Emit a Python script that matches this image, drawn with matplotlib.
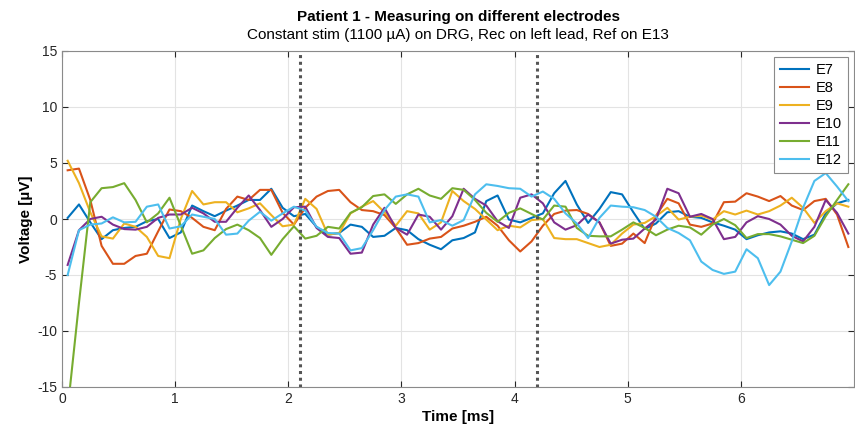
import matplotlib
matplotlib.use("Agg")
import matplotlib.pyplot as plt
import numpy as np

plt.rcParams['font.family'] = ['Liberation Sans', 'DejaVu Sans']
plt.rcParams['axes.unicode_minus'] = False

# samples every 0.1 ms, starting at 0.05 ms
time_ms = np.round(np.arange(0.05, 7.0, 0.1), 2)

e7 = [0.1, 1.3, -0.3, -1.8, -1.0, -0.8, -0.7, -0.2, 0.0, -1.7,
      -1.2, 1.2, 0.7, 0.25, 0.75, 1.2, 1.7, 1.7, 2.7, 1.0,
      0.25, 0.45, -0.7, -1.4, -1.25, -0.5, -0.7, -1.6, -1.5, -0.8,
      -1.0, -1.8, -2.3, -2.7, -1.9, -1.7, -1.2, 1.6, 2.1, -0.05,
      -0.3, 0.1, 0.5, 2.3, 3.4, 1.3, -0.35, 0.9, 2.4, 2.2,
      0.6, -0.9, -0.4, 0.6, 0.7, 0.2, 0.1, -0.3, -0.6, -0.95,
      -1.8, -1.45, -1.2, -1.1, -1.3, -1.8, -1.4, 0.5, 1.4, 1.7]
e8 = [4.35, 4.5, 1.7, -2.4, -4.0, -4.0, -3.3, -3.1, -1.1, 0.85,
      0.7, 0.1, -0.7, -1.0, 0.9, 2.0, 1.7, 2.6, 2.6, 0.55,
      -0.5, 1.0, 2.0, 2.5, 2.6, 1.5, 0.8, 0.7, 0.35, -0.8,
      -2.3, -2.15, -1.75, -1.6, -0.85, -0.6, -0.25, 0.2, -0.6, -1.9,
      -2.9, -2.0, -0.6, 0.45, 0.75, 0.8, 0.45, -0.3, -2.4, -2.2,
      -1.3, -2.15, 0.3, 1.8, 1.4, -0.5, -0.7, -0.4, 1.5, 1.55,
      2.3, 2.0, 1.6, 2.05, 1.2, 0.8, 1.6, 1.8, 0.4, -2.5]
e9 = [5.2, 3.2, 0.6, -1.55, -1.75, -0.4, -0.7, -1.6, -3.3, -3.5,
      0.0, 2.5, 1.3, 1.5, 1.5, 0.6, 0.95, 1.4, 0.35, -0.65,
      -0.5, 1.8, 0.9, -1.4, -1.25, 0.5, 1.1, 1.6, 0.6, -0.6,
      0.7, 0.5, -0.95, -0.3, 2.5, 1.6, 0.9, -0.05, -1.0, -0.6,
      -0.75, -0.1, 0.0, -1.7, -1.8, -1.8, -2.15, -2.5, -2.3, -1.3,
      -0.5, -0.35, 0.25, 1.0, -0.05, 0.2, 0.3, -0.05, 0.7, 0.4,
      0.75, 0.4, 0.7, 1.2, 1.9, 1.0, -0.35, 0.7, 1.4, 1.1]
e10 = [-4.1, -1.0, 0.0, 0.2, -0.5, -0.9, -0.95, -0.7, 0.1, 0.4,
       0.4, 1.0, 0.5, -0.25, -0.25, 1.0, 2.1, 0.8, -0.7, 0.0,
       1.05, 1.1, -0.8, -1.6, -1.7, -3.1, -3.0, -0.5, 1.0, -0.8,
       -1.4, 0.4, 0.2, -0.95, 0.25, 2.7, 1.8, 1.2, -0.2, -0.8,
       1.9, 2.2, 1.4, -0.3, -0.95, -0.55, 0.4, -0.3, -2.2, -1.85,
       -1.75, -0.85, -0.05, 2.7, 2.3, 0.2, 0.45, 0.0, -1.8, -1.6,
       -0.3, 0.25, 0.0, -0.5, -1.5, -2.0, -0.7, 1.7, 0.55, -1.3]
e11 = [-17.0, -7.5, 1.5, 2.75, 2.85, 3.2, 1.7, -0.3, 0.5, 1.9,
       -0.6, -3.1, -2.8, -1.7, -0.9, -0.5, -1.0, -1.7, -3.2, -1.8,
       -0.65, -1.75, -1.5, -0.7, -0.85, 0.55, 1.05, 2.05, 2.2, 1.35,
       2.2, 2.7, 2.1, 1.8, 2.75, 2.6, 1.7, 0.55, -0.25, 0.55,
       0.95, 0.45, -0.05, 1.2, 1.1, -0.8, -1.5, -1.55, -1.55, -0.95,
       -0.3, -0.8, -1.45, -0.95, -0.6, -0.75, -1.4, -0.5, 0.0, -0.55,
       -1.7, -1.35, -1.35, -1.55, -1.85, -2.15, -1.5, 0.25, 1.7, 3.1]
e12 = [-5.0, -1.0, -0.5, -0.4, 0.15, -0.3, -0.25, 1.1, 1.3, -0.85,
       -0.65, 0.4, 0.2, 0.0, -1.4, -1.3, -0.15, 0.65, -0.15, 0.5,
       1.1, 0.75, -0.7, -1.25, -1.3, -2.8, -2.6, -1.0, 0.8, 2.0,
       2.2, 2.0, -0.3, -0.1, -0.6, -0.1, 2.2, 3.1, 2.95, 2.75,
       2.7, 2.0, 2.45, 1.8, 0.5, -0.4, -1.7, 0.1, 1.2, 1.1,
       1.05, 0.8, 0.2, -0.8, -1.25, -1.9, -3.8, -4.55, -4.9, -4.7,
       -2.7, -3.5, -5.9, -4.7, -2.0, 1.0, 3.4, 4.1, 2.9, 1.6]

series = [e7, e8, e9, e10, e11, e12]
labels = ['E7', 'E8', 'E9', 'E10', 'E11', 'E12']
colors = ['#0072BD', '#D95319', '#EDB120', '#7E2F8E', '#77AC30', '#4DBEEE']
markers_ms = [2.1, 4.2]

fig = plt.figure(figsize=(8.55, 4.33), dpi=100)
ax = fig.add_axes([62 / 855, 1 - 387 / 433, 792 / 855, (387 - 51) / 433])

for y, lab, c in zip(series, labels, colors):
    ax.plot(time_ms, y, color=c, linewidth=1.5, label=lab)

for m in markers_ms:
    ax.axvline(m, color='#555555', linestyle=(0, (1, 1.2)), linewidth=2.2)

ax.set_xlim(0, 7)
ax.set_ylim(-15, 15)
ax.set_xticks(range(0, 7))
ax.set_yticks(range(-15, 16, 5))
ax.grid(True, color='#e3e3e3', linewidth=0.8)
ax.set_axisbelow(True)
ax.tick_params(direction='in', top=True, right=True, labelsize=10,
               colors='#262626', length=4)
for s in ax.spines.values():
    s.set_color('#8a8a8a')
    s.set_linewidth(0.8)

ax.set_xlabel('Time [ms]', fontsize=11, fontweight='bold', labelpad=3)
ax.set_ylabel('Voltage [µV]', fontsize=11, fontweight='bold', labelpad=3)

fig.text(458 / 855, 1 - 17 / 433, 'Patient 1 - Measuring on different electrodes',
         ha='center', va='center', fontsize=11, fontweight='bold')
fig.text(458 / 855, 1 - 35 / 433, 'Constant stim (1100 µA) on DRG, Rec on left lead, Ref on E13',
         ha='center', va='center', fontsize=11)

leg = ax.legend(loc='upper right', fontsize=10.5, fancybox=False, framealpha=1,
                edgecolor='#8a8a8a', handlelength=2.0, borderaxespad=0.4,
                labelspacing=0.28, borderpad=0.4, handletextpad=0.5)
leg.get_frame().set_linewidth(0.8)

fig.savefig('out.png', dpi=100)
